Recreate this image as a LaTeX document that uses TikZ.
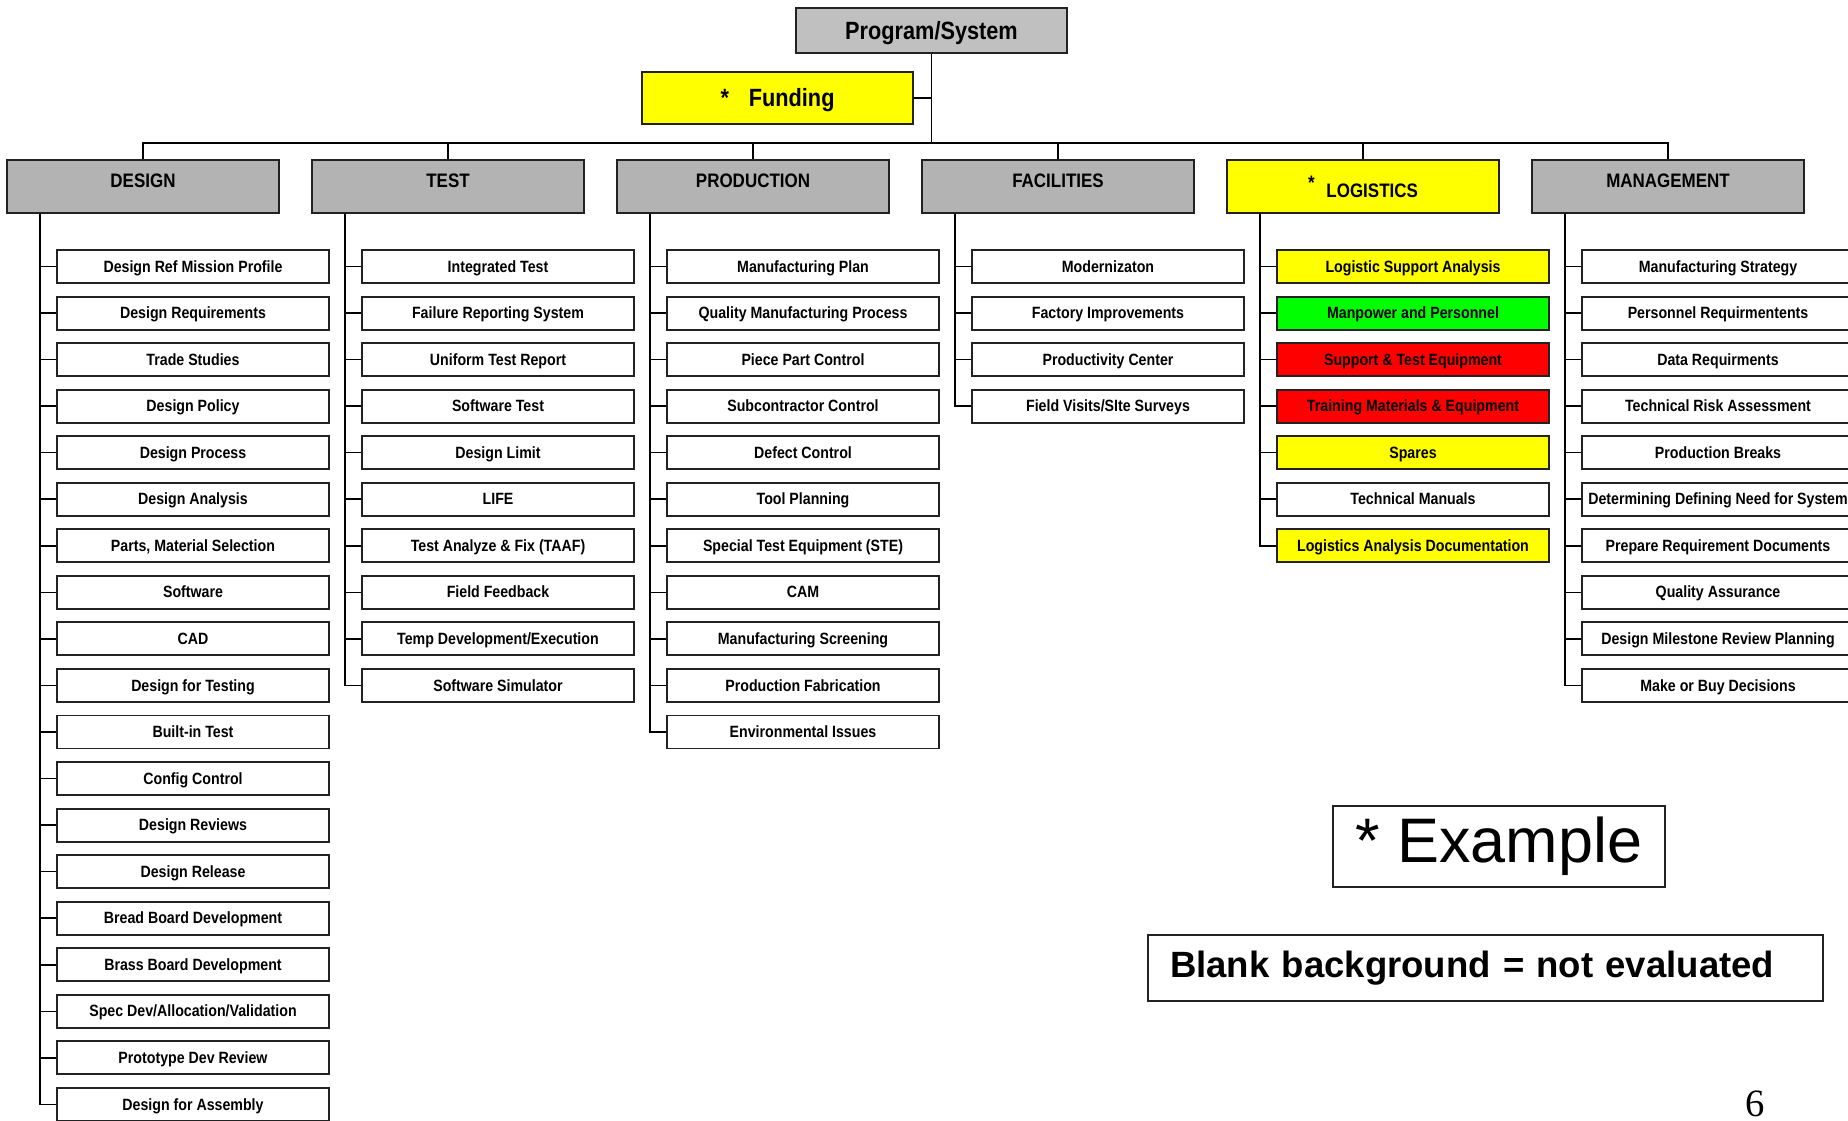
\documentclass[tikz,border=0pt]{standalone}
\usepackage{fontspec}
\setmainfont{Liberation Sans}
\newfontfamily\narrowsf[FakeStretch=0.87]{Liberation Sans}
\newfontfamily\pagefont{Liberation Serif}
\usetikzlibrary{positioning}
\definecolor{topgrey}{HTML}{C0C0C0}
\definecolor{areagrey}{HTML}{B3B3B3}
\definecolor{ilsyellow}{HTML}{FFFF00}
\definecolor{ilsgreen}{HTML}{00FF00}
\definecolor{ilsred}{HTML}{FF0000}
\definecolor{rim}{HTML}{222222}
\tikzset{
  task/.style={draw=rim,line width=0.55pt,fill=#1,minimum width=2.72cm,minimum height=0.33cm,
    inner sep=0pt,text height=0.117cm,text depth=0.005cm,font=\narrowsf\bfseries\fontsize{4.64}{5}\selectfont},
  task/.default=white,
  area/.style={draw=rim,line width=0.55pt,fill=#1,minimum width=2.72cm,inner xsep=0pt,inner ysep=0.13cm,
    text height=0.14cm,text depth=0.13cm,font=\narrowsf\bfseries\fontsize{5.55}{6}\selectfont},
  area/.default=areagrey,
  tie/.style={line width=0.45pt,draw=black},
}

\begin{document}
\begin{tikzpicture}[
  head/.style={draw=rim,line width=0.55pt,fill=#1,minimum width=2.71cm,inner sep=0pt,
    text height=0.18cm,text depth=0.005cm,font=\narrowsf\bfseries\fontsize{7.1}{8}\selectfont},
  legend/.style={draw=rim,line width=0.6pt,inner sep=0pt},
  x=1cm,y=1cm]
  \useasboundingbox (0,0) rectangle (18.48,-11.2);
  % top of the tree
  \node[head=topgrey,minimum height=0.45cm] (sys) at (9.315,-0.305) {Program/System};
  \node[head=ilsyellow,minimum height=0.52cm] (fund) at (7.775,-0.98) {*\hspace{0.8em}Funding};
  \coordinate (bus) at (9.315,-1.43);
  % areas
  \node[area] (des) at (1.43,-1.865) {DESIGN};
  \node[area] (tst) at (4.48,-1.865) {TEST};
  \node[area] (prd) at (7.53,-1.865) {PRODUCTION};
  \node[area] (fac) at (10.58,-1.865) {FACILITIES};
  \node[area=ilsyellow,text height=0.24cm,text depth=0.03cm] (log) at (13.63,-1.865) {\raisebox{0.08cm}{*}\hspace{0.6em}LOGISTICS};
  \node[area] (mgt) at (16.68,-1.865) {MANAGEMENT};
  % tasks
  \foreach \t [count=\i] in {Design Ref Mission Profile,Design Requirements,Trade Studies,Design Policy,
      Design Process,Design Analysis,{Parts, Material Selection},Software,CAD,Design for Testing,
      Built-in Test,Config Control,Design Reviews,Design Release,Bread Board Development,
      Brass Board Development,Spec Dev/Allocation/Validation,Prototype Dev Review,Design for Assembly}
    \node[task] (des\i) at (1.93,{-2.665-0.4655*(\i-1)}) {\t};
  \foreach \t [count=\i] in {Integrated Test,Failure Reporting System,Uniform Test Report,Software Test,
      Design Limit,LIFE,Test Analyze \& Fix (TAAF),Field Feedback,Temp Development/Execution,Software Simulator}
    \node[task] (tst\i) at (4.98,{-2.665-0.4655*(\i-1)}) {\t};
  \foreach \t [count=\i] in {Manufacturing Plan,Quality Manufacturing Process,Piece Part Control,
      Subcontractor Control,Defect Control,Tool Planning,Special Test Equipment (STE),CAM,
      Manufacturing Screening,Production Fabrication,Environmental Issues}
    \node[task] (prd\i) at (8.03,{-2.665-0.4655*(\i-1)}) {\t};
  \foreach \t [count=\i] in {Modernizaton,Factory Improvements,Productivity Center,Field Visits/SIte Surveys}
    \node[task] (fac\i) at (11.08,{-2.665-0.4655*(\i-1)}) {\t};
  \foreach \c/\t [count=\i] in {ilsyellow/Logistic Support Analysis,ilsgreen/Manpower and Personnel,
      ilsred/Support \& Test Equipment,ilsred/Training Materials \& Equipment,ilsyellow/Spares,
      white/Technical Manuals,ilsyellow/Logistics Analysis Documentation}
    \node[task=\c] (log\i) at (14.13,{-2.665-0.4655*(\i-1)}) {\t};
  \foreach \t [count=\i] in {Manufacturing Strategy,Personnel Requirmentents,Data Requirments,
      Technical Risk Assessment,Production Breaks,Determining Defining Need for System,
      Prepare Requirement Documents,Quality Assurance,Design Milestone Review Planning,Make or Buy Decisions}
    \node[task] (mgt\i) at (17.18,{-2.665-0.4655*(\i-1)}) {\t};
  % connectors
  \draw[tie] (sys.south) -- (bus);
  \draw[tie] (fund.east) -- (fund.east -| sys.south);
  \foreach \c in {des,tst,prd,fac,log,mgt}
    \draw[tie] (bus) -| (\c.north);
  \foreach \c/\n in {des/19,tst/10,prd/11,fac/4,log/7,mgt/10}
    \foreach \i in {1,...,\n}
      \draw[tie] ([xshift=0.34cm]\c.south west) |- (\c\i.west);
  % legend
  \node[legend,minimum width=3.32cm,minimum height=0.81cm,font=\fontsize{17.9}{20}\selectfont] (ex) at (14.99,-8.465) {* Example};
  \node[legend,text width=6.31cm,inner xsep=0.22cm,minimum height=0.66cm,align=left,
    font=\bfseries\fontsize{10.4}{12}\selectfont] (blank) at (14.855,-9.68) {Blank background = not evaluated};
  \node[font=\pagefont\fontsize{11}{12}\selectfont,anchor=base] (pg) at (17.55,-11.16) {6};
\end{tikzpicture}
\end{document}
